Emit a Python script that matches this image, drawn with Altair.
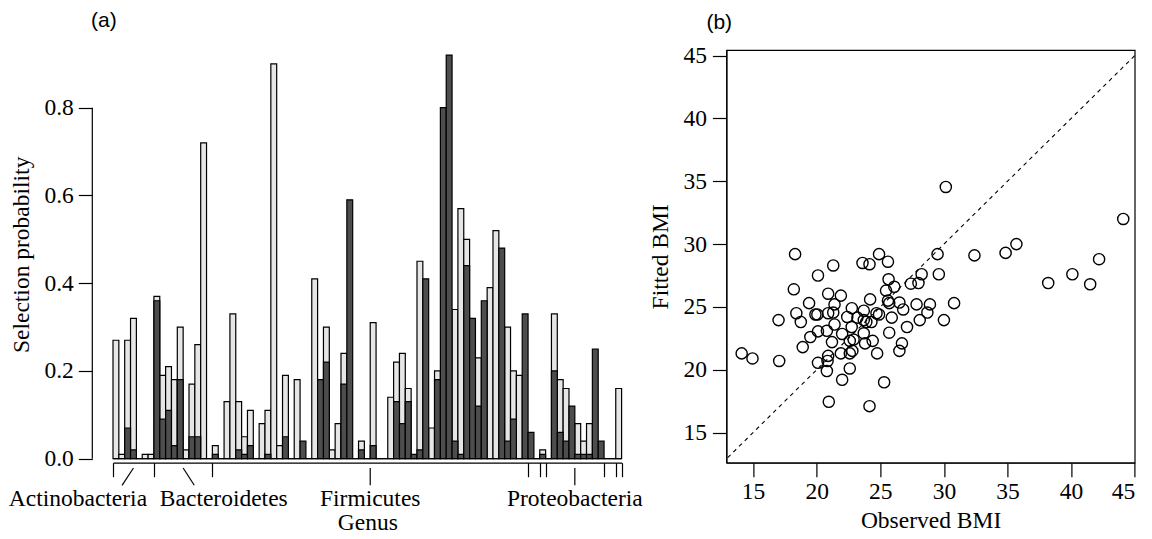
import altair as alt
import pandas as pd

# ---------------- panel (a): selection probabilities per genus ----------------
light = [0.27, 0.01, 0.27, 0.32, 0.00, 0.01, 0.01,
         0.37, 0.19, 0.21, 0.18, 0.30, 0.02, 0.17, 0.26, 0.72, 0.00,
         0.03, 0.00, 0.13, 0.33, 0.13, 0.05, 0.11, 0.00, 0.08, 0.11,
         0.90, 0.03, 0.19, 0.00, 0.18, 0.00, 0.00, 0.41, 0.00, 0.30,
         0.02, 0.08, 0.24, 0.00, 0.00, 0.04, 0.00, 0.31, 0.00, 0.00,
         0.14, 0.22, 0.24, 0.16, 0.00, 0.45, 0.00, 0.07, 0.20, 0.00,
         0.00, 0.34, 0.57, 0.50, 0.00, 0.23, 0.00, 0.39, 0.52, 0.00,
         0.30, 0.20, 0.19, 0.00,
         0.00, 0.00, 0.02,
         0.00, 0.33, 0.18, 0.16, 0.00, 0.08, 0.04, 0.08, 0.00, 0.00,
         0.00, 0.00, 0.16]
dark = [0.00, 0.00, 0.07, 0.02, 0.00, 0.00, 0.00,
        0.36, 0.09, 0.11, 0.03, 0.18, 0.00, 0.05, 0.05, 0.00, 0.00,
        0.01, 0.00, 0.00, 0.00, 0.02, 0.01, 0.03, 0.00, 0.00, 0.01,
        0.00, 0.00, 0.05, 0.00, 0.00, 0.04, 0.00, 0.00, 0.18, 0.22,
        0.00, 0.00, 0.17, 0.59, 0.00, 0.02, 0.00, 0.03, 0.00, 0.00,
        0.00, 0.13, 0.08, 0.13, 0.01, 0.02, 0.41, 0.00, 0.18, 0.80,
        0.92, 0.04, 0.01, 0.44, 0.32, 0.12, 0.36, 0.00, 0.00, 0.48,
        0.04, 0.09, 0.00, 0.33,
        0.06, 0.00, 0.01,
        0.00, 0.20, 0.06, 0.04, 0.12, 0.01, 0.01, 0.01, 0.25, 0.04,
        0.00, 0.00, 0.00]
genus_index = list(range(1, len(light) + 1))
group_bounds = [0, 7, 17, 71, 73, 74, 84, 86, 87]
phyla = ["Actinobacteria", "Bacteroidetes", "Firmicutes", "Proteobacteria"]
phyla_mid = [3.5, 12.0, 44.0, 79.0]
phyla_pointer_end = [1.55, 13.9, 44.0, 79.0]
phyla_label_x = [-6.0, 18.95, 44.0, 79.0]
prob_ticks = [0.0, 0.2, 0.4, 0.6, 0.8]
prob_axis_span = [0.0, 0.8]

# ---------------- panel (b): observed vs fitted BMI ----------------
observed = [18.3, 20.1, 18.2, 19.4, 18.4, 17.0, 18.75, 19.9, 20.05, 19.5, 20.1, 18.9,
            14.1, 14.95, 17.05, 20.1,
            30.15, 24.9, 25.6, 23.6, 24.15, 21.3, 29.5, 28.25, 29.6, 27.4, 28.0, 25.65,
            26.1, 25.45, 20.9, 21.9, 24.2, 21.4, 25.6, 25.7, 26.5, 26.8, 27.85, 28.9,
            28.7, 28.1, 30.0, 27.1, 25.9, 24.9, 24.7, 24.3, 23.9, 23.7, 23.7, 23.2,
            22.76, 22.4, 21.3, 20.9, 21.4, 20.8, 22.75, 22.0, 23.7, 25.7, 21.2, 22.6,
            22.9, 23.8, 24.4, 26.7, 26.5, 22.8, 22.6, 21.9, 20.9, 20.85, 24.75, 22.6,
            20.8, 22.0, 25.3, 20.95, 24.15,
            44.1, 35.7, 34.85, 32.4, 42.2, 40.1, 38.2, 41.5, 30.8]
fitted = [29.2, 27.5, 26.4, 25.3, 24.5, 23.95, 23.8, 24.4, 24.4, 22.6, 23.05, 21.8,
          21.3, 20.9, 20.7, 20.55,
          34.55, 29.2, 28.6, 28.5, 28.4, 28.3, 29.2, 27.6, 27.6, 26.85, 26.9, 27.2,
          26.6, 26.3, 26.05, 25.9, 25.6, 25.2, 25.5, 25.3, 25.35, 24.8, 25.2, 25.2,
          24.55, 23.95, 23.95, 23.4, 24.15, 24.4, 24.5, 23.8, 23.8, 23.95, 24.7, 24.15,
          24.9, 24.2, 24.55, 24.5, 23.6, 23.1, 23.4, 22.85, 22.9, 22.95, 22.2, 22.3,
          22.4, 22.1, 22.3, 22.1, 21.5, 21.5, 21.3, 21.3, 21.1, 20.7, 21.3, 20.1,
          19.9, 19.2, 19.0, 17.45, 17.1,
          32.0, 30.0, 29.3, 29.1, 28.8, 27.6, 26.9, 26.8, 25.3]
bmi_ticks = [15, 20, 25, 30, 35, 40, 45]
identity_line = [13, 45]

SERIF = "Liberation Serif"
FS = 23.5

# ---------------- build panel (a) ----------------
W1, H1 = 508.6, 408.7
bars = pd.DataFrame({
    "x0": [i - 1 for i in genus_index],
    "x1": genus_index,
    "light": light,
    "dark": dark,
    "zero": [0.0] * len(light),
})
xs1 = alt.Scale(domain=[0, 87], nice=False, zero=False)
ys1 = alt.Scale(domain=[0, 0.9315], nice=False)

light_bars = alt.Chart(bars).mark_rect(
    fill="#e6e6e6", stroke="black", strokeWidth=1.2
).encode(
    x=alt.X("x0:Q", scale=xs1, axis=alt.Axis(
        values=group_bounds, labels=False, tickSize=14, offset=4, grid=False,
        domainColor="black", tickColor="black", domainWidth=1.2, tickWidth=1.2,
        title="Genus", titlePadding=33)),
    x2="x1:Q",
    y=alt.Y("light:Q", scale=ys1, axis=alt.Axis(
        values=prob_ticks, format=".1f", offset=20.7, domain=False, tickSize=14,
        tickColor="black", tickWidth=1.2, labelPadding=5, grid=False,
        title="Selection probability", titlePadding=10)),
    y2="zero:Q",
)
dark_bars = alt.Chart(bars).mark_rect(
    fill="#4d4d4d", stroke="black", strokeWidth=1.2
).encode(
    x=alt.X("x0:Q", scale=xs1),
    x2="x1:Q",
    y=alt.Y("dark:Q", scale=ys1),
    y2="zero:Q",
)
yspan = pd.DataFrame({"a": [prob_axis_span[0]], "b": [prob_axis_span[1]]})
y_axis_line = alt.Chart(yspan).mark_rule(color="black", strokeWidth=1.2).encode(
    x=alt.value(-20.7),
    y=alt.Y("a:Q", scale=ys1),
    y2="b:Q",
)
ptr = pd.DataFrame({"top": phyla_mid, "bot": phyla_pointer_end})
pointers = alt.Chart(ptr).mark_rule(color="black", strokeWidth=1.2).encode(
    x=alt.X("top:Q", scale=xs1),
    x2="bot:Q",
    y=alt.value(H1 + 9.3),
    y2=alt.value(H1 + 26.6),
)
lab = pd.DataFrame({"name": phyla, "lx": phyla_label_x})
labels = alt.Chart(lab).mark_text(
    font=SERIF, fontSize=FS, color="black", baseline="middle", align="center"
).encode(
    x=alt.X("lx:Q", scale=xs1),
    y=alt.value(H1 + 40.3),
    text="name:N",
)
panel_a = alt.layer(light_bars, dark_bars, y_axis_line, pointers, labels).properties(
    width=W1, height=H1,
    title=alt.TitleParams("(a)", anchor="start", frame="group", dx=-22,
                          font="Liberation Sans", fontSize=21, fontWeight="normal",
                          offset=19, color="black"),
    view=alt.ViewBackground(stroke=None),
)

# ---------------- build panel (b) ----------------
W2, H2 = 408.3, 412.7
pts = pd.DataFrame({"obs": observed, "fit": fitted})
xs2 = alt.Scale(domain=[12.9, 45.0], nice=False, zero=False)
ys2 = alt.Scale(domain=[12.6, 45.45], nice=False, zero=False)
points = alt.Chart(pts).mark_point(
    shape="circle", filled=False, stroke="black", strokeWidth=1.4, size=125, opacity=1
).encode(
    x=alt.X("obs:Q", scale=xs2, axis=alt.Axis(
        values=bmi_ticks, tickSize=14, labelPadding=3, grid=False,
        domainColor="black", tickColor="black", domainWidth=1.2, tickWidth=1.2,
        title="Observed BMI", titlePadding=5)),
    y=alt.Y("fit:Q", scale=ys2, axis=alt.Axis(
        values=bmi_ticks, tickSize=14, labelPadding=6, grid=False,
        domainColor="black", tickColor="black", domainWidth=1.2, tickWidth=1.2,
        title="Fitted BMI", titlePadding=10)),
)
idl = pd.DataFrame({"a": [identity_line[0]], "b": [identity_line[1]]})
diag = alt.Chart(idl).mark_rule(color="black", strokeWidth=1.1, strokeDash=[4, 4]).encode(
    x=alt.X("a:Q", scale=xs2), x2="b:Q",
    y=alt.Y("a:Q", scale=ys2), y2="b:Q",
)
panel_b = alt.layer(diag, points).properties(
    width=W2, height=H2,
    title=alt.TitleParams("(b)", anchor="start", frame="group", dx=-20,
                          font="Liberation Sans", fontSize=21, fontWeight="normal",
                          offset=11, color="black"),
    view=alt.ViewBackground(stroke="black", strokeWidth=1.2),
)

chart = alt.hconcat(panel_a, panel_b, spacing=104.4, bounds="flush").properties(
    padding={"left": 0, "top": 2, "right": 0, "bottom": 0},
    background="white",
).configure_axis(
    labelFont=SERIF, labelFontSize=FS, labelColor="black",
    titleFont=SERIF, titleFontSize=FS, titleFontWeight="normal", titleColor="black",
).configure_view(stroke=None)

chart.save("out.html", embed_options={"renderer": "svg", "actions": False})
